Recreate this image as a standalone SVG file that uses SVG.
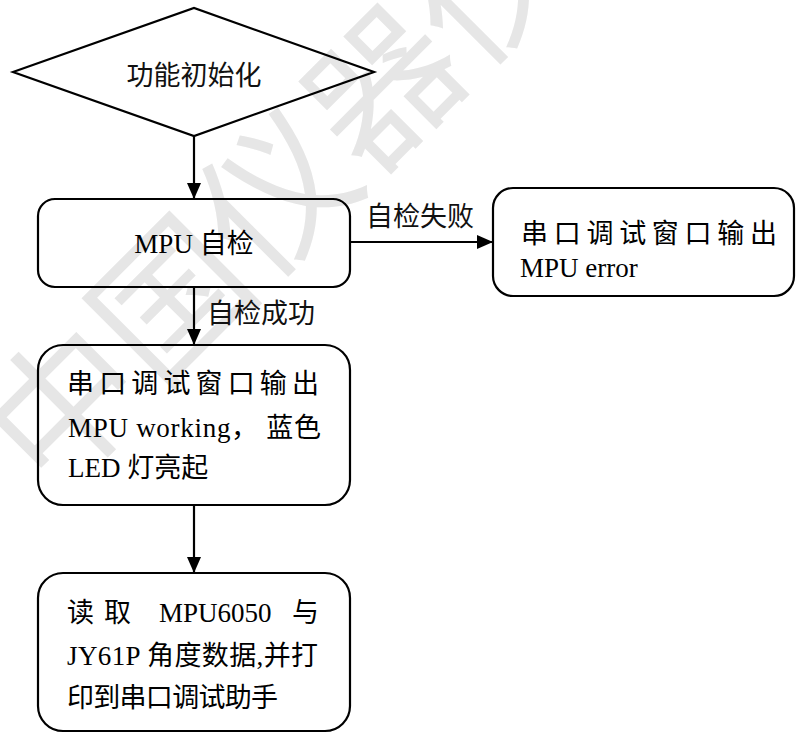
<svg xmlns="http://www.w3.org/2000/svg" width="796" height="733" viewBox="0 0 796 733">
<defs>
<style>
.wm{font-family:'Noto Sans CJK SC','Noto Sans CJK TC',sans-serif;font-size:150px;fill:#e6e6e6}
.shape{fill:none;stroke:#000;stroke-width:2.2}
.t{font-family:'Liberation Serif','Noto Sans CJK SC',serif;font-size:27px;fill:#000}
.s{font-family:'Noto Sans CJK SC','Noto Sans CJK TC',sans-serif;font-size:27px;fill:#111}
.conn{fill:none;stroke:#000;stroke-width:2.2}
</style>
<marker id="ah" markerUnits="userSpaceOnUse" markerWidth="16" markerHeight="14" refX="16" refY="7" orient="auto">
<path d="M0,0 L16,7 L0,14 z" fill="#000"/>
</marker>
</defs>
<rect width="796" height="733" fill="#fff"/>
<g id="watermark">
<text class="wm" transform="translate(67,408) rotate(-45)" x="-75" y="52">中国仪器仪表</text>
</g>
<g id="init">
<polygon class="shape" points="13,72 194,8 374,72 194,136"/>
<text class="s" x="194" y="85" text-anchor="middle">功能初始化</text>
</g>
<g id="selftest">
<rect class="shape" x="38" y="199" width="312" height="88" rx="17"/>
<text class="t" x="194" y="253" text-anchor="middle">MPU 自检</text>
</g>
<g id="error">
<rect class="shape" x="493" y="188" width="301" height="108" rx="20"/>
<text class="t" x="521" y="243" textLength="256" lengthAdjust="spacing">串口调试窗口输出</text>
<text class="t" x="520" y="277">MPU error</text>
</g>
<g id="working">
<rect class="shape" x="38" y="345" width="312" height="160" rx="25"/>
<text class="t" x="67" y="393" textLength="252" lengthAdjust="spacing">串口调试窗口输出</text>
<text class="t" x="68" y="437" textLength="253" lengthAdjust="spacing">MPU working， 蓝色</text>
<text class="t" x="68" y="477">LED 灯亮起</text>
</g>
<g id="read">
<rect class="shape" x="38" y="573" width="312" height="158" rx="25"/>
<text class="t" y="622"><tspan x="67">读</tspan><tspan x="104">取</tspan><tspan x="159">MPU6050</tspan><tspan x="292">与</tspan></text>
<text class="t" x="67" y="665" textLength="251" lengthAdjust="spacing">JY61P 角度数据,并打</text>
<text class="t" x="67" y="707" textLength="211" lengthAdjust="spacing">印到串口调试助手</text>
</g>
<g id="connectors">
<line class="conn" x1="194" y1="136" x2="194" y2="199" marker-end="url(#ah)"/>
<line class="conn" x1="350" y1="242" x2="493" y2="242" marker-end="url(#ah)"/>
<line class="conn" x1="194" y1="287" x2="194" y2="345" marker-end="url(#ah)"/>
<line class="conn" x1="194" y1="505" x2="194" y2="573" marker-end="url(#ah)"/>
<text class="s" x="366" y="226">自检失败</text>
<text class="s" x="207" y="323">自检成功</text>
</g>
</svg>
